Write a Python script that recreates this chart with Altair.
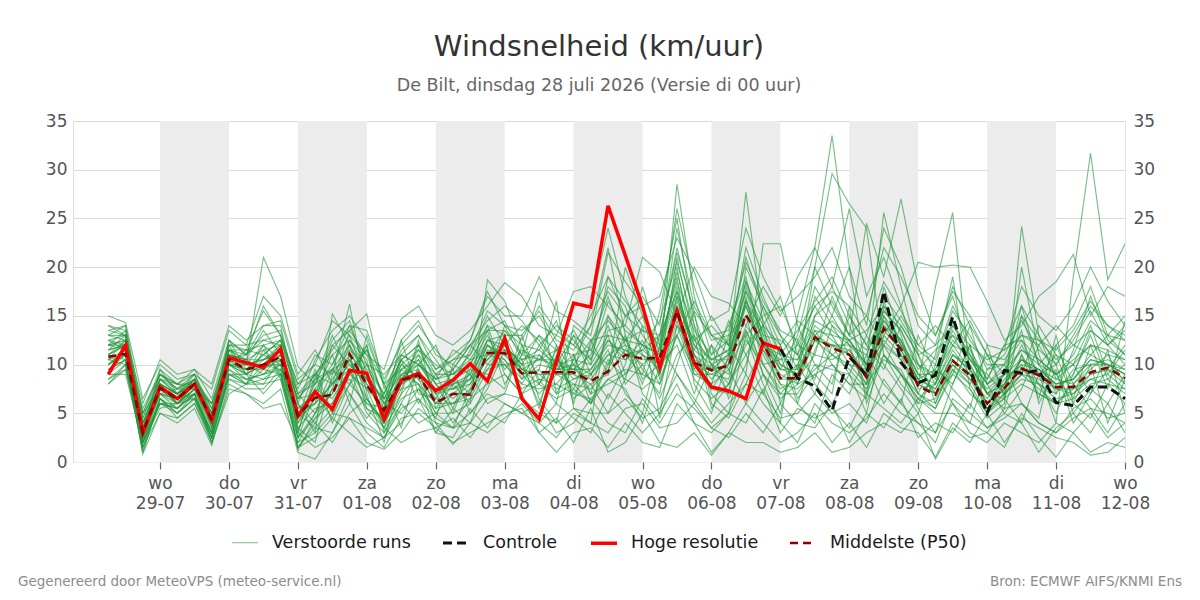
import altair as alt
import pandas as pd

# Forecast steps in hours relative to wo 29-07 00:00 (6-hourly, 28-07 06:00 .. 12-08 00:00)
step_hours = list(range(-18, 337, 6))

day_names = ["wo", "do", "vr", "za", "zo", "ma", "di", "wo", "do", "vr", "za", "zo", "ma", "di", "wo"]
day_dates = ["29-07", "30-07", "31-07", "01-08", "02-08", "03-08", "04-08", "05-08",
             "06-08", "07-08", "08-08", "09-08", "10-08", "11-08", "12-08"]
shaded_day_starts = [0, 48, 96, 144, 192, 240, 288]

# Hoge resolutie run (until 07-08 00:00)
hoge_resolutie = [
    9.0, 12.0, 3.0, 7.7, 6.5, 8.0, 4.3, 10.7, 10.2, 9.7,
    11.6, 4.7, 7.2, 5.4, 9.4, 9.1, 4.4, 8.4, 9.1, 7.3,
    8.4, 10.1, 8.3, 12.7, 6.5, 4.4, 10.3, 16.3, 15.9, 26.3,
    21.2, 16.0, 9.7, 15.5, 10.1, 7.7, 7.3, 6.5, 12.2, 11.6,
]

# Controle run (from 07-08 00:00 onwards)
controle_start = 39
controle = [
    11.6, 8.6, 7.8, 5.3, 10.8, 8.9, 17.5, 10.2, 8.1, 8.9,
    14.9, 9.5, 5.0, 9.4, 9.1, 9.4, 6.1, 5.8, 7.7, 7.7, 6.5,
]

# Ensemble median
middelste = [
    10.8, 11.1, 3.0, 7.6, 6.5, 8.0, 4.3, 10.5, 9.5, 10.0,
    10.8, 4.8, 6.6, 6.9, 11.1, 7.9, 5.3, 8.4, 8.9, 6.1,
    7.0, 6.9, 11.2, 11.2, 9.1, 9.2, 9.2, 9.2, 8.3, 9.3,
    11.0, 10.6, 10.7, 15.5, 10.2, 9.4, 9.9, 15.1, 12.2, 8.6,
    8.6, 12.8, 11.7, 11.0, 8.7, 13.7, 11.6, 7.8, 6.9, 10.4,
    8.9, 6.0, 7.6, 9.6, 8.9, 7.7, 7.7, 9.2, 9.7, 8.6,
]

# Perturbed ensemble members
run_01 = [12.5, 13.0, 2.0, 8.0, 7.0, 8.5, 3.5, 11.5, 10.0, 21.0,
          17.0, 9.8, 8.0, 12.5, 14.5, 9.0, 6.0, 9.5, 10.5, 8.0,
          6.5, 8.0, 12.0, 10.5, 8.5, 12.0, 9.5, 11.0, 7.0, 13.5,
          14.0, 12.0, 9.0, 17.0, 11.0, 7.5, 10.0, 16.0, 11.0, 8.0,
          6.0, 11.5, 15.0, 12.0, 7.0, 18.0, 13.0, 8.0, 18.0, 25.6,
          9.0, 5.5, 6.5, 11.0, 8.0, 5.0, 9.0, 13.0, 8.5, 10.0]
run_02 = [10.0, 11.5, 4.5, 9.0, 8.0, 7.5, 6.0, 10.0, 11.5, 15.5,
          13.0, 6.0, 3.0, 15.2, 12.0, 6.5, 4.0, 7.0, 12.5, 5.5,
          8.0, 6.0, 18.7, 16.5, 12.0, 8.5, 6.0, 14.0, 12.5, 9.0,
          20.0, 15.0, 8.5, 13.0, 9.5, 12.0, 6.5, 10.0, 16.0, 13.0,
          9.5, 20.0, 29.6, 26.5, 24.0, 11.0, 9.0, 6.5, 8.0, 14.0,
          11.0, 7.0, 9.0, 13.5, 6.0, 9.5, 4.0, 7.0, 11.5, 5.0]
run_03 = [8.0, 10.0, 1.0, 6.5, 5.5, 7.0, 2.0, 9.0, 8.5, 8.0,
          10.5, 1.2, 4.5, 6.0, 9.0, 12.0, 3.0, 6.0, 9.5, 4.0,
          3.5, 7.5, 9.5, 12.0, 10.0, 6.0, 11.0, 7.0, 9.0, 11.5,
          7.0, 5.0, 12.0, 19.0, 8.0, 5.0, 11.0, 27.7, 14.0, 6.0,
          10.0, 7.0, 12.0, 9.0, 5.0, 13.0, 16.0, 10.0, 7.0, 9.0,
          14.0, 8.0, 5.0, 7.5, 12.0, 9.0, 6.0, 10.0, 4.0, 8.5]
run_04 = [15.0, 14.3, 6.5, 10.0, 8.5, 9.0, 7.5, 13.5, 12.0, 17.0,
          15.0, 9.0, 11.5, 8.0, 13.5, 15.2, 7.5, 11.0, 13.0, 9.5,
          11.0, 12.5, 17.5, 14.0, 13.5, 15.0, 12.0, 9.0, 16.0, 24.0,
          17.0, 13.0, 10.5, 28.5, 17.0, 11.0, 14.0, 19.0, 12.0, 9.5,
          13.0, 20.0, 16.0, 13.0, 24.5, 19.0, 27.0, 18.0, 13.0, 17.0,
          11.0, 8.5, 12.0, 16.0, 10.0, 12.0, 14.0, 18.0, 13.0, 15.0]
run_05 = [11.0, 12.0, 3.5, 7.0, 6.0, 8.0, 5.0, 12.0, 9.0, 10.5,
          12.0, 3.5, 2.0, 9.0, 16.2, 7.0, 2.0, 9.0, 8.0, 3.0,
          5.5, 10.0, 14.0, 9.0, 7.0, 9.5, 16.5, 5.5, 4.0, 15.0,
          11.0, 9.0, 15.5, 25.0, 14.0, 7.0, 5.0, 13.0, 8.0, 4.0,
          15.0, 22.0, 33.5, 20.0, 9.0, 12.0, 9.0, 5.5, 3.0, 8.0,
          12.0, 5.0, 8.0, 12.0, 9.0, 4.0, 19.0, 31.7, 18.7, 22.4]
run_06 = [9.5, 10.5, 2.5, 8.5, 7.0, 6.5, 3.0, 11.0, 10.5, 9.5,
          11.0, 6.5, 9.0, 4.0, 8.0, 10.0, 5.5, 12.5, 7.0, 6.5,
          9.5, 5.0, 7.5, 11.5, 9.0, 7.0, 9.0, 13.0, 9.0, 6.5,
          10.0, 18.0, 12.0, 9.0, 6.0, 10.0, 8.0, 12.0, 14.0, 17.0,
          11.0, 8.5, 14.0, 12.5, 10.0, 6.0, 9.0, 7.0, 11.0, 19.0,
          7.5, 4.5, 6.0, 24.2, 13.0, 8.5, 10.0, 7.0, 9.5, 12.0]
run_07 = [13.0, 12.5, 1.5, 6.0, 5.0, 7.0, 2.5, 9.5, 8.0, 11.5,
          9.0, 2.5, 7.0, 11.0, 6.0, 13.0, 8.0, 3.5, 10.0, 12.0,
          7.5, 9.0, 13.5, 8.0, 11.0, 17.5, 7.0, 10.5, 14.0, 22.0,
          13.0, 7.0, 5.0, 14.0, 11.5, 15.0, 12.0, 9.0, 22.4, 22.4,
          14.0, 10.0, 8.0, 15.0, 12.0, 9.5, 14.0, 11.0, 6.0, 10.0,
          8.0, 11.0, 7.0, 9.0, 14.0, 11.0, 6.5, 12.0, 7.5, 14.5]
run_08 = [10.5, 11.0, 5.0, 7.5, 6.5, 8.5, 5.5, 10.0, 9.0, 8.5,
          10.0, 5.5, 6.0, 8.0, 10.5, 6.0, 4.5, 8.0, 11.0, 7.0,
          4.0, 6.5, 10.0, 10.0, 8.0, 11.0, 9.0, 8.0, 6.0, 10.0,
          12.5, 9.5, 7.0, 16.0, 10.0, 8.0, 13.0, 15.0, 9.0, 7.0,
          9.0, 13.0, 10.0, 8.0, 6.5, 16.0, 12.0, 9.0, 7.0, 11.0,
          9.5, 6.0, 8.5, 10.0, 7.0, 6.0, 8.0, 9.5, 11.0, 8.0]
run_09 = [12.0, 13.5, 3.0, 9.5, 7.0, 9.0, 4.5, 10.5, 11.0, 13.0,
          13.5, 7.0, 5.0, 7.0, 12.0, 8.5, 6.5, 10.0, 8.5, 5.0,
          7.0, 8.5, 12.5, 13.0, 9.5, 8.0, 10.5, 9.5, 11.0, 18.0,
          16.0, 11.0, 9.5, 21.0, 13.0, 10.0, 9.0, 17.0, 10.0, 10.5,
          12.0, 16.0, 13.0, 10.0, 8.0, 15.0, 11.0, 8.5, 9.5, 13.0,
          10.0, 7.0, 6.5, 15.0, 10.0, 7.5, 9.0, 13.5, 12.0, 10.0]
run_10 = [9.0, 10.5, 2.0, 6.0, 5.5, 7.5, 3.5, 9.5, 8.5, 9.0,
          10.0, 4.0, 7.5, 6.5, 9.5, 5.0, 3.0, 7.0, 9.0, 6.0,
          8.5, 7.0, 11.0, 10.5, 7.5, 8.5, 8.0, 10.0, 7.0, 8.0,
          9.0, 11.0, 8.0, 14.0, 9.0, 9.0, 8.5, 14.0, 11.5, 8.0,
          7.5, 9.5, 11.0, 9.5, 7.5, 12.0, 10.5, 7.0, 5.5, 9.5,
          8.0, 5.0, 7.0, 8.5, 8.0, 6.5, 7.0, 8.5, 9.0, 7.5]
run_11 = [11.5, 12.0, 4.0, 8.0, 6.0, 8.0, 4.0, 11.0, 10.0, 10.5,
          11.5, 5.0, 3.5, 5.5, 11.0, 9.0, 5.0, 9.0, 9.5, 6.5,
          6.0, 7.5, 12.0, 11.0, 9.5, 9.0, 7.5, 8.5, 9.5, 12.0,
          11.5, 10.0, 11.5, 18.0, 11.0, 8.5, 10.5, 18.0, 13.0, 8.5,
          10.0, 14.0, 12.5, 11.0, 9.0, 14.0, 12.5, 7.5, 8.0, 11.5,
          9.0, 6.0, 8.0, 10.0, 9.5, 8.0, 8.5, 10.5, 10.0, 9.0]
run_12 = [10.0, 11.0, 0.8, 5.0, 4.0, 5.5, 1.7, 8.0, 7.0, 6.0,
          7.5, 1.0, 0.3, 3.0, 6.0, 3.0, 1.5, 4.5, 5.0, 3.5,
          2.0, 3.0, 4.0, 5.0, 5.5, 3.0, 1.0, 3.0, 3.5, 1.5,
          4.0, 2.0, 1.5, 6.0, 4.0, 1.0, 3.0, 6.0, 4.0, 2.0,
          3.0, 5.0, 2.0, 4.0, 1.5, 5.0, 3.5, 3.0, 0.5, 4.0,
          2.5, 3.0, 1.5, 5.0, 2.5, 0.5, 3.0, 1.0, 2.0, 1.5]
run_13 = [14.0, 13.0, 6.0, 10.5, 9.0, 9.5, 8.0, 14.0, 12.5, 14.0,
          14.5, 8.5, 10.0, 14.5, 13.0, 11.0, 9.5, 14.7, 16.0, 13.0,
          12.0, 13.5, 16.0, 18.4, 17.0, 14.0, 13.0, 17.5, 18.0, 16.0,
          14.0, 21.0, 19.5, 15.0, 20.0, 17.0, 16.3, 14.0, 18.0, 15.0,
          19.0, 22.0, 18.0, 26.0, 17.0, 21.0, 16.0, 20.5, 20.0, 20.2,
          20.0, 16.5, 12.5, 14.0, 17.0, 18.5, 21.3, 15.0, 18.0, 17.0]
run_14 = [8.5, 9.5, 3.0, 7.0, 6.5, 7.0, 3.0, 10.0, 9.0, 12.0,
          8.5, 2.0, 5.0, 9.5, 7.0, 4.5, 7.0, 10.5, 6.0, 9.0,
          5.5, 4.0, 8.5, 14.0, 10.5, 5.5, 12.0, 6.5, 8.0, 5.0,
          8.5, 14.0, 4.5, 10.0, 15.5, 6.0, 4.5, 8.0, 12.0, 11.0,
          6.0, 4.0, 9.0, 7.0, 11.0, 8.0, 6.0, 13.0, 9.0, 6.0,
          4.0, 9.5, 10.0, 6.0, 4.5, 12.0, 8.0, 5.5, 3.0, 6.0]
run_15 = [12.5, 11.5, 2.5, 7.0, 7.5, 8.5, 4.0, 12.5, 9.5, 11.0,
          12.5, 3.0, 8.5, 13.0, 9.0, 7.5, 3.5, 8.5, 11.5, 10.0,
          9.0, 11.0, 15.0, 12.0, 10.0, 13.0, 10.0, 7.5, 12.0, 17.0,
          12.0, 8.0, 13.0, 22.0, 15.0, 10.0, 7.0, 20.0, 16.0, 12.0,
          8.0, 15.0, 18.0, 14.0, 10.0, 25.6, 18.0, 11.0, 8.0, 13.5,
          10.5, 9.0, 7.0, 20.0, 11.0, 7.0, 11.5, 17.0, 12.5, 11.0]
run_16 = [10.5, 12.5, 3.5, 8.0, 7.0, 8.0, 5.0, 10.5, 10.0, 9.0,
          11.0, 6.0, 4.0, 7.5, 12.5, 10.5, 4.0, 8.0, 9.0, 7.5,
          7.5, 8.5, 10.5, 12.5, 8.5, 10.0, 9.5, 9.5, 8.5, 11.0,
          10.5, 12.5, 9.0, 16.5, 12.0, 9.5, 11.0, 16.5, 11.5, 9.0,
          8.0, 12.5, 11.0, 10.0, 9.5, 12.5, 10.5, 8.0, 7.0, 10.0,
          8.5, 6.5, 9.0, 9.5, 8.0, 7.0, 9.5, 10.0, 10.5, 9.5]
run_17 = [11.0, 10.5, 1.5, 6.5, 4.5, 6.0, 2.5, 8.5, 7.5, 7.5,
          9.5, 4.5, 9.5, 5.0, 8.0, 12.0, 6.0, 5.0, 7.5, 4.5,
          10.0, 9.0, 6.0, 7.0, 12.0, 6.5, 4.0, 11.0, 6.0, 8.5,
          7.5, 4.0, 10.0, 12.0, 7.0, 12.0, 9.5, 6.0, 9.0, 5.0,
          12.5, 8.0, 6.0, 9.0, 13.0, 10.0, 7.5, 5.0, 10.0, 7.5,
          5.5, 12.0, 6.5, 4.0, 9.0, 10.0, 5.0, 7.5, 6.0, 9.0]
run_18 = [13.5, 14.0, 5.0, 9.0, 8.0, 9.5, 6.5, 12.5, 11.0, 16.0,
          13.0, 7.5, 11.0, 10.0, 14.0, 13.5, 8.5, 12.0, 14.0, 11.5,
          9.5, 12.0, 14.5, 16.0, 14.5, 12.0, 14.0, 12.5, 10.0, 19.0,
          15.0, 17.0, 14.0, 26.0, 18.0, 13.0, 12.0, 22.0, 17.0, 13.0,
          11.0, 18.0, 15.0, 20.0, 14.0, 24.0, 20.0, 14.0, 12.0, 18.0,
          14.0, 11.0, 9.0, 16.0, 13.0, 10.0, 13.0, 16.0, 14.0, 13.0]
run_19 = [9.0, 9.0, 2.0, 5.5, 6.0, 6.5, 2.0, 7.0, 8.0, 10.0,
          9.5, 1.5, 2.5, 4.5, 3.0, 1.5, 2.5, 6.0, 4.0, 5.0,
          3.5, 5.0, 7.0, 6.0, 5.0, 4.0, 6.0, 4.5, 3.0, 7.0,
          5.0, 3.0, 5.0, 8.0, 4.0, 3.0, 5.0, 9.0, 6.0, 4.0,
          2.0, 6.0, 4.0, 3.0, 4.5, 7.0, 5.0, 4.0, 3.0, 6.0,
          3.0, 2.0, 4.0, 3.0, 2.0, 4.0, 3.0, 5.0, 2.5, 4.0]
run_20 = [12.0, 12.5, 4.0, 8.5, 7.5, 7.5, 4.5, 11.5, 9.0, 10.0,
          12.0, 5.0, 6.0, 12.0, 10.0, 8.0, 5.0, 11.0, 10.0, 8.5,
          9.0, 10.0, 13.0, 9.5, 11.5, 10.5, 13.0, 12.0, 10.5, 14.0,
          9.0, 12.0, 11.0, 20.0, 10.5, 9.5, 14.5, 11.0, 14.0, 10.0,
          9.0, 17.0, 14.0, 11.0, 8.0, 16.5, 12.0, 10.0, 8.5, 14.5,
          10.5, 8.0, 10.0, 12.5, 9.0, 11.0, 10.0, 14.0, 9.0, 11.5]
run_21 = [10.0, 11.5, 3.0, 7.5, 6.5, 8.5, 3.5, 10.5, 9.5, 9.5,
          10.5, 2.5, 5.0, 8.5, 11.0, 5.5, 4.5, 9.5, 8.0, 6.0,
          6.0, 7.0, 11.5, 11.0, 9.0, 9.5, 7.0, 8.0, 7.5, 9.5,
          13.0, 8.5, 10.0, 15.0, 9.0, 8.0, 9.5, 13.5, 10.0, 7.5,
          8.5, 11.0, 10.5, 11.5, 8.5, 13.0, 11.0, 7.0, 6.0, 10.5,
          8.5, 5.5, 7.5, 9.0, 8.5, 7.5, 7.0, 9.0, 9.5, 8.0]
run_22 = [14.0, 13.5, 2.5, 8.0, 6.0, 7.5, 3.0, 11.0, 10.5, 13.5,
          11.0, 6.5, 7.0, 4.5, 9.0, 11.5, 6.5, 7.5, 12.0, 8.0,
          5.0, 9.5, 9.0, 7.5, 13.0, 8.0, 11.5, 6.0, 12.5, 13.0,
          8.0, 10.0, 6.5, 11.0, 13.0, 5.5, 8.0, 11.0, 7.0, 12.0,
          6.5, 9.0, 7.0, 16.0, 6.0, 11.0, 8.0, 6.0, 9.5, 8.0,
          12.0, 7.0, 5.5, 11.0, 6.5, 13.0, 6.0, 4.5, 8.0, 6.0]
run_23 = [11.5, 12.0, 3.5, 7.5, 6.0, 8.0, 4.5, 10.0, 9.5, 10.0,
          10.0, 4.0, 6.5, 7.0, 10.5, 7.5, 5.5, 8.0, 9.0, 6.0,
          7.0, 7.0, 11.0, 11.5, 9.5, 9.0, 9.0, 9.0, 8.0, 9.0,
          11.5, 10.5, 10.5, 15.5, 10.0, 9.0, 10.0, 15.0, 12.0, 8.5,
          8.5, 12.5, 12.0, 11.0, 9.0, 13.5, 11.5, 8.0, 7.0, 10.5,
          9.0, 6.0, 7.5, 9.5, 9.0, 7.5, 7.5, 9.0, 9.5, 8.5]
run_24 = [9.5, 11.0, 2.0, 6.5, 5.0, 6.5, 3.0, 9.0, 8.0, 8.5,
          9.0, 3.0, 1.5, 2.5, 4.5, 2.0, 1.3, 3.0, 5.5, 4.0,
          1.8, 4.0, 3.0, 4.5, 6.0, 4.0, 2.5, 5.0, 4.0, 3.0,
          5.5, 6.0, 3.5, 4.0, 6.0, 3.5, 2.5, 5.0, 3.0, 6.0,
          4.0, 3.5, 6.0, 2.0, 5.0, 3.5, 6.5, 2.5, 4.0, 3.0,
          6.0, 3.5, 5.0, 4.0, 1.0, 3.5, 5.0, 3.0, 6.0, 3.0]
run_25 = [13.0, 13.0, 4.5, 8.5, 8.0, 9.0, 5.5, 12.0, 11.5, 12.0,
          12.5, 8.0, 9.0, 11.0, 12.5, 9.5, 7.0, 10.5, 12.0, 9.0,
          9.0, 10.5, 13.5, 13.5, 11.0, 10.5, 11.5, 11.0, 11.5, 15.0,
          12.5, 13.5, 12.5, 18.5, 13.5, 11.0, 12.5, 18.5, 14.5, 11.0,
          10.5, 14.5, 13.5, 12.0, 11.0, 15.5, 13.5, 10.0, 9.0, 12.0,
          11.0, 8.0, 9.5, 11.5, 10.5, 9.0, 10.5, 12.0, 11.5, 10.5]
run_26 = [10.5, 10.0, 2.5, 6.0, 6.0, 7.0, 2.5, 9.0, 9.0, 7.0,
          9.0, 1.5, 4.0, 2.0, 5.0, 6.5, 3.5, 2.0, 3.0, 3.5,
          4.5, 2.5, 5.0, 4.0, 7.0, 3.0, 4.5, 2.0, 5.5, 1.0,
          2.0, 5.0, 2.0, 1.5, 3.0, 0.7, 3.0, 2.0, 2.0, 1.0,
          1.5, 3.0, 1.0, 1.5, 3.0, 4.0, 3.0, 5.0, 0.3, 3.5,
          2.0, 5.0, 2.0, 4.5, 3.5, 2.5, 2.0, 0.7, 1.0, 2.5]
run_27 = [12.0, 11.5, 3.5, 8.0, 7.0, 8.0, 4.0, 10.0, 10.0, 12.0,
          10.5, 4.5, 8.0, 9.5, 8.0, 6.0, 5.5, 10.5, 8.5, 7.0,
          8.0, 9.0, 12.0, 10.0, 10.5, 11.0, 9.5, 10.0, 9.0, 12.5,
          10.5, 11.5, 13.0, 17.5, 11.5, 10.0, 11.0, 17.5, 12.5, 10.0,
          9.0, 13.5, 11.0, 12.5, 9.5, 14.5, 12.5, 9.0, 8.0, 12.0,
          9.5, 7.5, 9.0, 10.5, 9.0, 8.0, 8.5, 11.0, 10.0, 9.0]
run_28 = [11.0, 12.0, 5.5, 9.0, 7.5, 8.5, 6.0, 11.5, 11.5, 11.0,
          12.5, 7.0, 9.0, 8.0, 9.5, 11.5, 8.0, 9.5, 11.0, 9.0,
          10.5, 12.0, 10.0, 12.0, 14.0, 12.5, 10.0, 13.0, 11.5, 10.0,
          15.0, 16.0, 11.0, 13.0, 16.5, 13.0, 11.0, 13.0, 15.0, 16.0,
          12.0, 11.0, 17.0, 13.0, 15.0, 12.0, 15.0, 12.0, 14.0, 12.0,
          14.5, 11.0, 10.5, 13.0, 12.0, 14.0, 12.0, 11.0, 13.0, 12.5]
run_29 = [8.0, 9.5, 1.5, 5.0, 4.5, 6.0, 2.0, 7.5, 7.0, 5.5,
          6.0, 2.0, 3.0, 5.0, 4.5, 3.5, 2.5, 4.0, 6.5, 3.0,
          2.5, 5.5, 3.5, 6.0, 5.0, 6.0, 3.0, 4.0, 6.5, 4.0,
          3.0, 6.5, 4.0, 7.0, 5.5, 3.5, 5.0, 4.0, 7.5, 3.0,
          5.5, 4.5, 5.5, 3.5, 7.0, 5.5, 4.0, 6.5, 5.0, 5.0,
          4.0, 3.0, 5.5, 6.0, 4.0, 3.0, 5.5, 6.5, 4.5, 5.0]
run_30 = [12.0, 12.5, 4.0, 7.5, 7.0, 8.0, 5.0, 11.0, 10.5, 10.5,
          11.0, 5.5, 7.0, 9.5, 12.0, 9.0, 6.0, 8.5, 10.0, 7.5,
          8.0, 8.5, 12.5, 12.0, 10.0, 10.5, 10.5, 8.5, 9.0, 11.0,
          12.0, 11.0, 10.0, 16.0, 12.5, 10.5, 10.5, 16.5, 13.5, 9.5,
          9.5, 13.0, 12.0, 12.0, 10.0, 14.5, 12.0, 8.5, 7.5, 11.0,
          10.0, 7.0, 8.0, 10.5, 9.5, 8.5, 8.0, 10.0, 10.0, 9.5]
run_31 = [11.0, 12.5, 2.5, 7.0, 6.5, 8.5, 4.0, 11.5, 11.0, 12.5,
          12.0, 3.0, 9.0, 11.5, 14.0, 10.0, 7.0, 11.5, 13.0, 10.5,
          8.0, 11.5, 15.5, 14.0, 12.5, 16.0, 13.5, 12.0, 15.0, 19.0,
          16.5, 14.0, 12.0, 24.0, 16.0, 12.5, 13.0, 21.0, 15.5, 11.0,
          13.5, 16.5, 19.0, 15.0, 12.0, 17.0, 14.5, 11.5, 10.0, 15.5,
          13.0, 9.5, 11.0, 14.5, 11.5, 10.0, 12.5, 15.5, 12.0, 13.5]
run_32 = [12.5, 12.0, 3.0, 8.0, 6.0, 7.5, 4.0, 10.0, 9.5, 11.0,
          10.0, 5.0, 7.5, 10.0, 13.0, 8.0, 5.5, 10.0, 11.5, 8.5,
          9.5, 12.0, 13.5, 14.5, 11.0, 13.0, 11.5, 13.5, 10.5, 16.5,
          13.5, 12.0, 14.5, 20.5, 14.0, 10.5, 11.5, 18.5, 13.0, 12.5,
          11.0, 15.0, 16.5, 13.0, 11.5, 15.5, 13.5, 9.5, 11.5, 13.0,
          11.5, 8.5, 12.0, 12.5, 10.5, 9.0, 11.0, 14.5, 13.0, 11.0]
run_33 = [10.0, 11.0, 2.0, 7.0, 5.5, 7.0, 3.0, 10.0, 8.5, 9.0,
          9.5, 3.5, 5.5, 6.0, 9.5, 6.5, 4.0, 7.5, 8.0, 5.0,
          5.0, 6.0, 9.5, 10.0, 8.0, 7.5, 8.0, 7.0, 6.5, 8.5,
          9.5, 9.0, 8.0, 13.0, 8.5, 6.5, 8.0, 12.5, 10.0, 7.0,
          7.0, 10.0, 9.5, 9.0, 7.0, 11.0, 9.0, 6.5, 5.5, 9.0,
          7.5, 5.0, 6.5, 8.0, 7.0, 6.0, 6.5, 8.0, 8.5, 7.0]
run_34 = [13.0, 14.0, 3.5, 9.0, 7.5, 9.0, 5.0, 12.5, 11.0, 14.0,
          14.0, 6.0, 10.5, 13.5, 15.0, 12.5, 8.0, 12.5, 14.5, 11.0,
          10.0, 12.5, 17.0, 15.0, 15.0, 19.0, 15.5, 14.5, 13.0, 21.5,
          18.5, 16.0, 17.0, 23.0, 19.5, 14.5, 15.5, 24.0, 19.0, 15.5,
          17.0, 19.0, 22.0, 17.0, 15.0, 22.0, 19.0, 15.0, 13.0, 17.5,
          15.0, 12.0, 11.5, 18.0, 15.0, 13.5, 16.0, 20.0, 16.5, 14.0]
run_35 = [9.5, 10.5, 1.0, 6.5, 5.0, 6.5, 2.5, 8.5, 8.0, 8.0,
          8.5, 1.5, 3.5, 3.0, 7.0, 4.0, 2.5, 5.5, 6.5, 4.5,
          3.5, 4.0, 6.5, 7.0, 6.5, 5.0, 4.0, 5.5, 5.0, 5.0,
          6.5, 4.5, 5.5, 9.0, 6.5, 4.0, 6.0, 8.0, 7.0, 4.5,
          5.0, 7.0, 5.0, 6.0, 4.0, 8.5, 6.0, 4.0, 2.0, 6.5,
          5.0, 3.5, 4.5, 6.0, 4.0, 3.0, 4.5, 5.5, 5.0, 4.0]
run_36 = [11.5, 13.0, 4.0, 8.5, 7.0, 8.5, 5.0, 11.5, 10.5, 11.5,
          12.0, 7.0, 8.0, 12.0, 13.5, 11.0, 6.5, 10.5, 12.0, 9.5,
          10.5, 11.0, 14.0, 13.0, 13.0, 15.5, 12.5, 11.5, 14.0, 17.5,
          15.0, 13.5, 13.0, 21.5, 15.5, 13.0, 13.5, 20.5, 16.5, 13.5,
          12.5, 16.0, 17.5, 16.0, 13.0, 18.5, 15.5, 12.0, 10.5, 16.0,
          12.5, 10.0, 10.0, 15.0, 12.5, 11.5, 13.5, 16.5, 14.0, 12.5]
run_37 = [10.5, 11.5, 2.5, 7.5, 6.0, 7.5, 4.0, 10.5, 9.0, 10.0,
          10.5, 4.5, 6.0, 8.0, 10.0, 8.5, 5.0, 8.5, 10.5, 7.0,
          7.5, 8.0, 10.5, 12.0, 9.5, 10.5, 10.0, 9.5, 9.5, 12.5,
          11.0, 11.5, 10.0, 17.0, 11.0, 9.5, 10.0, 16.5, 12.5, 9.5,
          9.0, 12.5, 12.0, 11.5, 9.0, 14.0, 11.5, 8.5, 7.5, 11.0,
          9.5, 7.0, 8.0, 10.5, 9.5, 8.0, 8.5, 10.5, 10.0, 9.0]
run_38 = [13.5, 13.0, 5.0, 9.5, 8.0, 8.0, 6.0, 12.0, 12.0, 12.5,
          13.0, 8.0, 10.0, 9.0, 11.5, 10.0, 9.0, 11.0, 10.0, 8.5,
          11.5, 10.5, 11.0, 13.5, 12.0, 11.5, 14.5, 10.0, 12.5, 14.5,
          12.5, 15.0, 11.5, 19.5, 12.5, 14.0, 12.0, 17.5, 14.0, 12.0,
          14.5, 13.0, 14.5, 12.5, 13.5, 16.0, 14.0, 11.0, 12.0, 14.0,
          12.0, 10.5, 11.5, 13.0, 12.5, 10.5, 12.0, 13.5, 12.0, 14.0]
run_39 = [8.5, 10.0, 2.0, 6.0, 5.5, 7.0, 2.5, 9.0, 8.0, 9.5,
          9.0, 2.5, 4.5, 7.5, 8.5, 5.5, 3.5, 6.5, 7.5, 5.5,
          6.0, 6.5, 8.0, 9.0, 7.0, 8.0, 6.5, 7.5, 6.0, 10.5,
          8.5, 7.5, 9.0, 14.5, 9.5, 7.5, 7.0, 13.5, 9.0, 6.5,
          8.0, 9.0, 10.0, 8.0, 8.0, 10.5, 9.5, 6.0, 6.5, 9.5,
          7.0, 5.5, 7.0, 9.0, 7.5, 6.0, 7.5, 8.5, 8.0, 7.5]
run_40 = [12.0, 12.0, 3.5, 8.0, 7.0, 8.0, 4.5, 11.0, 10.0, 10.5,
          11.5, 6.5, 8.5, 9.5, 10.5, 8.5, 6.5, 9.0, 10.0, 8.0,
          8.5, 9.5, 12.5, 11.5, 10.5, 11.5, 10.0, 10.5, 10.0, 13.0,
          12.5, 12.0, 11.0, 17.5, 12.0, 10.5, 11.5, 16.0, 12.0, 10.5,
          10.5, 13.5, 13.0, 12.5, 10.0, 15.0, 12.5, 9.0, 9.0, 12.5,
          10.5, 8.0, 9.0, 11.5, 10.0, 9.0, 10.0, 12.0, 11.0, 10.5]

ensemble_runs = [run_01, run_02, run_03, run_04, run_05, run_06, run_07, run_08, run_09, run_10,
                 run_11, run_12, run_13, run_14, run_15, run_16, run_17, run_18, run_19, run_20,
                 run_21, run_22, run_23, run_24, run_25, run_26, run_27, run_28, run_29, run_30,
                 run_31, run_32, run_33, run_34, run_35, run_36, run_37, run_38, run_39, run_40]

SERIES = ["Verstoorde runs", "Controle", "Hoge resolutie", "Middelste (P50)"]

# Long-format tables per series
ens_rows = []
for k, run in enumerate(ensemble_runs):
    for h, v in zip(step_hours, run):
        ens_rows.append({"uur": h, "kmh": v, "run": k + 1, "serie": SERIES[0]})
ens_df = pd.DataFrame(ens_rows)

ctrl_df = pd.DataFrame({"uur": step_hours[controle_start:controle_start + len(controle)],
                        "kmh": controle, "serie": SERIES[1]})
hres_df = pd.DataFrame({"uur": step_hours[:len(hoge_resolutie)], "kmh": hoge_resolutie,
                        "serie": SERIES[2]})
p50_df = pd.DataFrame({"uur": step_hours, "kmh": middelste, "serie": SERIES[3]})
band_df = pd.DataFrame({"start": shaded_day_starts, "end": [s + 24 for s in shaded_day_starts]})

FONT = "DejaVu Sans"
tick_hours = [24 * i for i in range(len(day_names))]
label_table = "[" + ",".join(f"['{d}','{t}']" for d, t in zip(day_names, day_dates)) + "]"

x_scale = alt.Scale(domain=[-30.3, 336], nice=False, zero=False)
y_scale = alt.Scale(domain=[0, 35], nice=False)

x_axis = alt.Axis(values=tick_hours, labelExpr=f"{label_table}[round(datum.value/24)]",
                  grid=False, domain=False, ticks=True, tickColor="#666666", tickSize=7,
                  tickWidth=1.2, labelColor="#555555", labelFontSize=17, labelFont=FONT,
                  labelLineHeight=20, labelPadding=6, labelOverlap=False, labelFlush=False,
                  title=None)
left_axis = alt.Axis(values=[0, 5, 10, 15, 20, 25, 30, 35], orient="left", grid=True,
                     gridColor={"condition": {"test": "datum.value === 0", "value": "#ededed"},
                                "value": "#d9d9d9"},
                     domain=False, ticks=False, labelColor="#555555",
                     labelFontSize=17, labelFont=FONT, labelPadding=6, title=None)
right_axis = alt.Axis(values=[0, 5, 10, 15, 20, 25, 30, 35], orient="right", grid=False,
                      domain=True, domainColor="#e3e3e3", ticks=False, labelColor="#555555",
                      labelFontSize=17, labelFont=FONT, labelPadding=8, title=None)

legend = alt.Legend(title=None, orient="none", legendX=157, legendY=407, direction="horizontal",
                    columns=4, symbolType="stroke", symbolSize=676, labelFontSize=17.5,
                    labelFont=FONT, labelColor="#1a1a1a", labelOffset=12, columnPadding=26,
                    padding=0)


def style_channels():
    return dict(
        color=alt.Color("serie:N", scale=alt.Scale(domain=SERIES, range=["#1e9639", "#111111", "#ff0000", "#8b0000"]), legend=legend),
        strokeDash=alt.StrokeDash("serie:N", scale=alt.Scale(domain=SERIES, range=[[1, 0], [9, 5], [1, 0], [8, 5]]), legend=legend),
        strokeWidth=alt.StrokeWidth("serie:N", scale=alt.Scale(type="ordinal", domain=SERIES, range=[1.15, 3, 3.5, 2.5]), legend=legend),
        opacity=alt.Opacity("serie:N", scale=alt.Scale(type="ordinal", domain=SERIES, range=[0.6, 1, 1, 1]), legend=legend),
    )


bands = alt.Chart(band_df).mark_rect(color="#ececec").encode(
    x=alt.X("start:Q", scale=x_scale, axis=x_axis),
    x2="end:Q",
)

ens = alt.Chart(ens_df).mark_line(clip=True).encode(
    x=alt.X("uur:Q", scale=x_scale, axis=x_axis),
    y=alt.Y("kmh:Q", scale=y_scale, axis=left_axis),
    detail="run:N",
    **style_channels(),
)

ctrl = alt.Chart(ctrl_df).mark_line().encode(
    x=alt.X("uur:Q", scale=x_scale, axis=x_axis),
    y=alt.Y("kmh:Q", scale=y_scale, axis=None),
    **style_channels(),
)

hres = alt.Chart(hres_df).mark_line().encode(
    x=alt.X("uur:Q", scale=x_scale, axis=x_axis),
    y=alt.Y("kmh:Q", scale=y_scale, axis=None),
    **style_channels(),
)

p50 = alt.Chart(p50_df).mark_line().encode(
    x=alt.X("uur:Q", scale=x_scale, axis=x_axis),
    y=alt.Y("kmh:Q", scale=y_scale, axis=right_axis),
    **style_channels(),
)

credit_left = alt.Chart(pd.DataFrame({"txt": ["Gegenereerd door MeteoVPS (meteo-service.nl)"]})).mark_text(
    align="left", baseline="middle", fontSize=13.5, font=FONT, color="#8c8c8c"
).encode(x=alt.value(-55), y=alt.value(461), text="txt:N")

credit_right = alt.Chart(pd.DataFrame({"txt": ["Bron: ECMWF AIFS/KNMI Ens"]})).mark_text(
    align="right", baseline="middle", fontSize=13.5, font=FONT, color="#8c8c8c"
).encode(x=alt.value(1109), y=alt.value(461), text="txt:N")

chart = alt.layer(bands, ens, ctrl, hres, p50, credit_left, credit_right).resolve_axis(
    y="independent"
).properties(
    width=1052,
    height=341,
    padding={"left": 73, "top": 121, "right": 75, "bottom": 138},
    autosize=alt.AutoSizeParams(type="none"),
    title=alt.TitleParams(
        text="Windsnelheid (km/uur)",
        subtitle="De Bilt, dinsdag 28 juli 2026 (Versie di 00 uur)",
        font=FONT, fontSize=29, fontWeight="normal", color="#333333",
        subtitleFont=FONT, subtitleFontSize=17.5, subtitleColor="#666666",
        subtitlePadding=15, anchor="middle", offset=18,
    ),
).configure_view(stroke=None).configure(background="white", font=FONT)

chart.save("out.html", embed_options={"renderer": "svg", "actions": False})
